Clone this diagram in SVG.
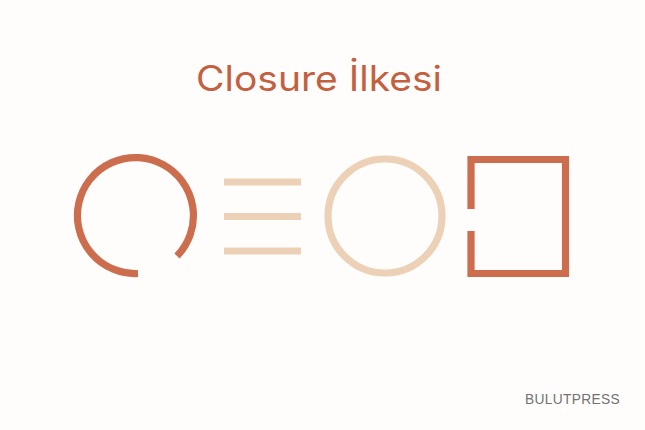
<svg xmlns="http://www.w3.org/2000/svg" width="645" height="430" viewBox="0 0 645 430">
<style>
.dark{fill:none;stroke:#cc6d4d;stroke-width:7.2}
.light{fill:none;stroke:#edd1b6;stroke-width:7.2}
.title{font-family:Inter,"Open Sans",sans-serif;font-size:35px;fill:#c3603f}
.brand{font-family:"Liberation Sans",Arial,sans-serif;font-size:13.8px;fill:#737373;letter-spacing:0.3px}
</style>
<rect width="645" height="430" fill="#fefdfc"/>
<text class="title" x="319" y="91" text-anchor="middle" textLength="246" lengthAdjust="spacingAndGlyphs">Closure İlkesi</text>
<g id="open-circle">
<path class="dark" d="M138 273.5 A58 58 0 1 1 177 256"/>
</g>
<g id="lines">
<line class="light" x1="224" y1="182" x2="301" y2="182"/>
<line class="light" x1="224" y1="216.5" x2="301" y2="216.5"/>
<line class="light" x1="224" y1="251" x2="301" y2="251"/>
</g>
<g id="circle">
<circle class="light" cx="385" cy="216" r="57"/>
</g>
<g id="open-square">
<path class="dark" d="M471 209 V159.5 H565.5 V273.5 H471 V231" stroke-linejoin="miter"/>
</g>
<text class="brand" x="620" y="404" text-anchor="end">BULUTPRESS</text>
</svg>
